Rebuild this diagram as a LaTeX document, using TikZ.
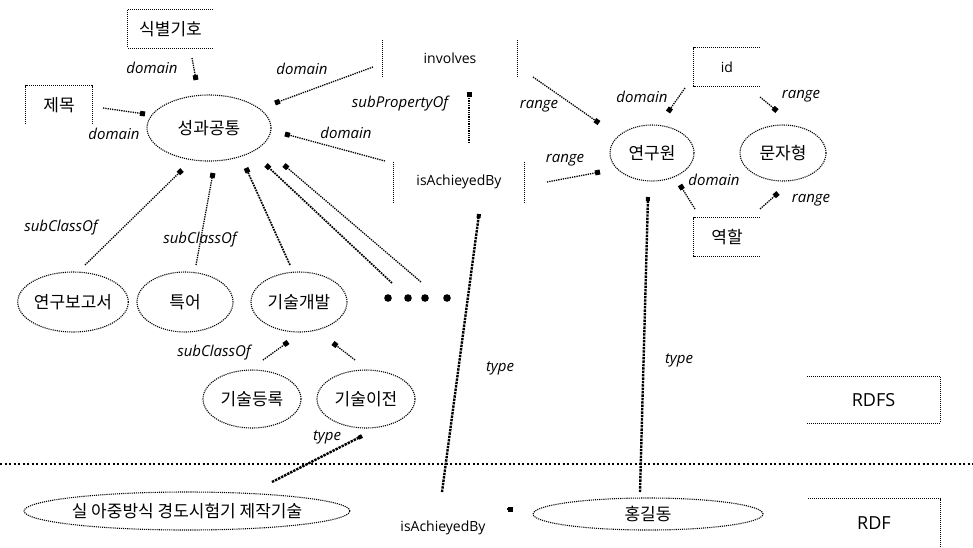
\documentclass[tikz,border=0pt]{standalone}
\usepackage{fontspec}
\setmainfont{Open Sans}
\newfontfamily\krfont{Noto Sans CJK KR}
\usetikzlibrary{shapes.geometric,arrows.meta,calc}

\begin{document}
\begin{tikzpicture}[x=1pt,y=-1pt,
  cls/.style={ellipse, draw, densely dotted, line width=1.1pt, inner sep=0pt,
              font=\krfont\fontsize{17}{19}\selectfont},
  lit/.style={inner sep=0pt, font=\krfont\fontsize{17}{19}\selectfont},
  prop/.style={inner sep=0pt, font=\fontsize{14}{16}\selectfont},
  layer/.style={inner sep=0pt, font=\fontsize{18}{20}\selectfont},
  lbl/.style={inner sep=0pt, font=\itshape\fontsize{15}{17}\selectfont},
  rel/.style={densely dotted, line width=1.3pt, -{Square[length=5pt,width=5pt]}},
  inst/.style={densely dotted, line width=2.4pt, -{Square[length=4pt,width=4pt]}},
  side/.style={densely dotted, line width=1pt},
  sep/.style={dash pattern=on 2pt off 2.5pt, line width=1.6pt},
]
\useasboundingbox (0,0) rectangle (973,547);

% ---------- classes (ellipses) ----------
\node[cls, minimum width=124pt, minimum height=66pt] (sg)  at (209,128) {성과공통};
\node[cls, minimum width=84pt,  minimum height=56pt] (yw)  at (652,153) {연구원};
\node[cls, minimum width=86pt,  minimum height=56pt] (mj)  at (783,153) {문자형};
\node[cls, minimum width=96pt,  minimum height=60pt] (rep) at (73,302)  {연구보고서};
\node[cls, minimum width=96pt,  minimum height=60pt] (tk)  at (185,302) {특어};
\node[cls, minimum width=96pt,  minimum height=60pt] (gd)  at (299,302) {기술개발};
\node[cls, minimum width=98pt,  minimum height=58pt] (gr)  at (252,399) {기술등록};
\node[cls, minimum width=98pt,  minimum height=58pt] (gi)  at (366,399) {기술이전};
\node[cls, minimum width=324pt, minimum height=38pt] (sil) at (187,511) {실 아중방식 경도시험기 제작기술};
\node[cls, minimum width=230pt, minimum height=32pt] (hg)  at (648,514) {홍길동};

% ---------- literal / property boxes ----------
\node[lit, minimum width=85pt, minimum height=38pt] (sik) at (170.5,29) {식별기호};
\node[lit, minimum width=66pt, minimum height=38pt] (jm)  at (59,105)   {제목};
\node[prop, minimum width=134pt, minimum height=36pt] (inv) at (450,58) {involves};
\node[prop, minimum width=130pt, minimum height=40pt] (isa) at (459,182) {isAchieyedBy};
\node[prop, minimum width=66pt, minimum height=38pt] (id)  at (727,67)  {id};
\node[lit, minimum width=66pt, minimum height=38pt] (yh)  at (727,237) {역할};
\node[layer, minimum width=133pt, minimum height=46pt] (rdfs) at (873.5,400) {RDFS};
\node[layer, minimum width=132pt, minimum height=48pt] (rdf)  at (874,523) {RDF};
\node[prop] (isb) at (443,528) {isAchieyedBy};
\node[minimum width=70pt, minimum height=10pt, inner sep=0pt] (more) at (418,298) {};

% partial box outlines
\draw[side] (sik.north east) -- (sik.north west) -- (sik.south west) -- (sik.south east);
\draw[side] (jm.south west) -- (jm.north west) -- (jm.north east) -- (jm.south east);
\draw[side] (inv.north west) -- (inv.south west);
\draw[side] (inv.north east) -- (inv.south east);
\draw[side] (isa.north west) -- (isa.south west);
\draw[side] (isa.north east) -- (isa.south east);
\draw[side] (id.north east) -- (id.north west) -- (id.south west) -- (id.south east);
\draw[side] (yh.north east) -- (yh.north west) -- (yh.south west) -- (yh.south east);
\draw[side] (rdfs.north west) -- (rdfs.north east) -- (rdfs.south east) -- (rdfs.south west);
\draw[side] (rdf.north west) -- (rdf.north east) -- (rdf.south east);

% the four dots
\foreach \dx in {-30,-10,7,29} \fill ($(more.center)+(\dx,0)$) circle (3.8pt);

% ---------- RDFS / RDF separator ----------
\draw[sep] (0,464) -- (973,464);

% ---------- schema relations ----------
\draw[rel] ($(sik.center)+(21.5,29)$) -- ($(sg.center)+(-13,-48)$);
\draw[rel] ($(jm.center)+(44,3)$) -- ($(sg.center)+(-64,-14)$);
\draw[rel] ($(inv.center)+(-77,9)$) -- ($(sg.center)+(66,-25)$);
\draw[rel] ($(isa.center)+(-74,-21)$) -- ($(sg.center)+(76,6)$);
\draw[rel] ($(isa.center)+(10,-39)$) -- ($(inv.center)+(19,34)$);
\draw[rel] ($(inv.center)+(83,19)$) -- ($(yw.center)+(-53,-30)$);
\draw[rel] ($(isa.center)+(88,0)$) -- ($(yw.center)+(-52,19)$);
\draw[rel] ($(id.center)+(-42,21)$) -- ($(yw.center)+(16,-41)$);
\draw[rel] ($(id.center)+(33,30)$) -- ($(mj.center)+(-6,-42)$);
\draw[rel] ($(yh.center)+(-32,-28)$) -- ($(yw.center)+(28,32)$);
\draw[rel] ($(yh.center)+(33,-28)$) -- ($(mj.center)+(-5,40)$);
\draw[rel] ($(rep.center)+(12,-37)$) -- ($(sg.center)+(-27,42)$);
\draw[rel] ($(tk.center)+(11,-37)$) -- ($(sg.center)+(4,45)$);
\draw[rel, line width=1.7pt] ($(gd.center)+(-9,-37)$) -- ($(sg.center)+(37,40)$);
\draw[rel, line width=1.7pt] ($(more.center)+(-26,-15)$) -- ($(sg.center)+(57,37)$);
\draw[rel] ($(more.center)+(3,-16)$) -- ($(sg.center)+(75,37)$);
\draw[rel] ($(gr.center)+(11,-39)$) -- ($(gd.center)+(-11,40)$);
\draw[rel] ($(gi.center)+(-11,-39)$) -- ($(gd.center)+(34,41)$);

% ---------- instance (type) relations ----------
\draw[inst] ($(sil.center)+(85,-29)$) -- ($(gi.center)+(-4,37)$);
\draw[inst] ($(isb.center)+(-1,-36)$) -- ($(isa.center)+(20,32)$);
\draw[inst] ($(hg.center)+(-8,-22)$) -- ($(yw.center)+(-4,44)$);
\draw[rel] ($(isb.center)+(64,-19)$) -- ($(hg.center)+(-135,-5)$);

% ---------- edge labels ----------
\node[lbl] at (152,68)  {domain};
\node[lbl] at (302,69)  {domain};
\node[lbl] at (114,134) {domain};
\node[lbl] at (346,133) {domain};
\node[lbl] at (400,104) {subPropertyOf};
\node[lbl] at (539,106) {range};
\node[lbl] at (565,160) {range};
\node[lbl] at (642,97)  {domain};
\node[lbl] at (801,96)  {range};
\node[lbl] at (714,180) {domain};
\node[lbl] at (811,200) {range};
\node[lbl] at (61,228)  {subClassOf};
\node[lbl] at (200,240) {subClassOf};
\node[lbl] at (214,353) {subClassOf};
\node[lbl] at (327,437) {type};
\node[lbl] at (500,368) {type};
\node[lbl] at (679,360) {type};
\end{tikzpicture}
\end{document}
